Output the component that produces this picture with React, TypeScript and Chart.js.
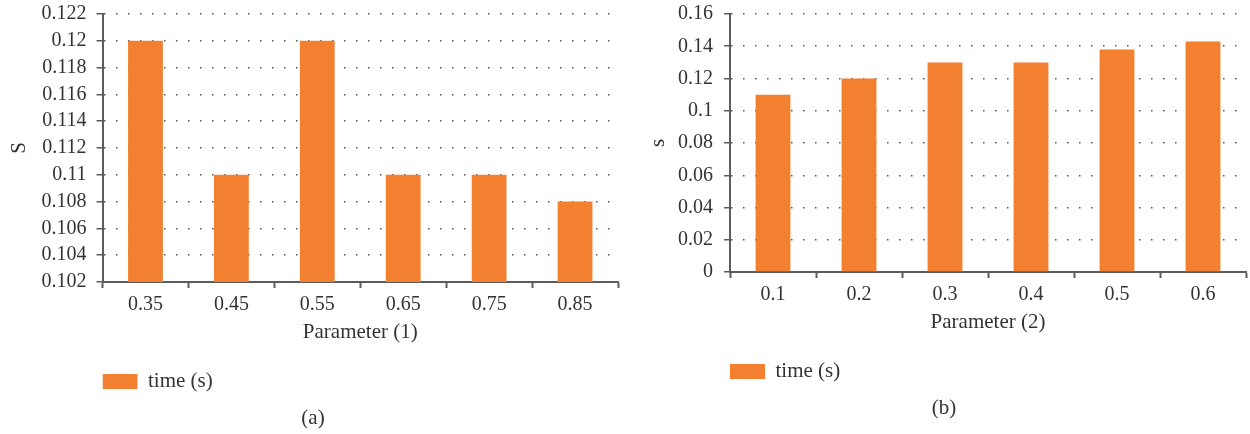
import React, { useEffect, useRef } from "react";
import { Chart, registerables } from "chart.js";

Chart.register(...registerables);

// ---- data ----
const categoriesA = ["0.35", "0.45", "0.55", "0.65", "0.75", "0.85"];
const timeA = [0.12, 0.11, 0.12, 0.11, 0.11, 0.108];
const yMinA = 0.102;
const yMaxA = 0.122;
const yStepA = 0.002;

const categoriesB = ["0.1", "0.2", "0.3", "0.4", "0.5", "0.6"];
const timeB = [0.11, 0.12, 0.13, 0.13, 0.138, 0.143];
const yMinB = 0;
const yMaxB = 0.16;
const yStepB = 0.02;

const seriesLabel = "time (s)";

// ---- styling ----
const FONT = "'Liberation Serif', 'Times New Roman', serif";
const TEXT = "#333333";
const AXIS = "#5c5c5c";
const DOTS = "#555555";
const BAR = "#F37F31";

type Panel = {
  categories: string[];
  values: number[];
  yMin: number;
  yMax: number;
  yStep: number;
  decimals: number;
  yTitle: string;
  xTitle: string;
  caption: string;
  // layout
  left: number;
  width: number;
  yWidth: number;
  yTickPad: number;
  yTitlePad: number;
  xHeight: number;
  xTickPad: number;
  xTitlePadBottom: number;
  captionPad: { top: number; bottom: number };
  padRight: number;
};

const panelA: Panel = {
  categories: categoriesA,
  values: timeA,
  yMin: yMinA,
  yMax: yMaxA,
  yStep: yStepA,
  decimals: 3,
  yTitle: "S",
  xTitle: "Parameter (1)",
  caption: "(a)",
  left: 8,
  width: 617,
  yWidth: 94.5,
  yTickPad: 10,
  yTitlePad: -1.5,
  xHeight: 89,
  xTickPad: 5,
  xTitlePadBottom: 26.4,
  captionPad: { top: 3.4, bottom: 3.4 },
  padRight: 7,
};

const panelB: Panel = {
  categories: categoriesB,
  values: timeB,
  yMin: yMinB,
  yMax: yMaxB,
  yStep: yStepB,
  decimals: 2,
  yTitle: "s",
  xTitle: "Parameter (2)",
  caption: "(b)",
  left: 642,
  width: 608,
  yWidth: 88,
  yTickPad: 11,
  yTitlePad: 3.7,
  xHeight: 89,
  xTickPad: 4.5,
  xTitlePadBottom: 26.4,
  captionPad: { top: 3.4, bottom: 13.4 },
  padRight: 4,
};

const font = (size: number) => ({ family: FONT, size, lineHeight: 1.2, weight: "normal" as const });

function buildConfig(p: Panel): any {
  return {
    type: "bar",
    data: {
      labels: p.categories,
      datasets: [
        {
          label: seriesLabel,
          data: p.values,
          backgroundColor: BAR,
          borderWidth: 0,
          categoryPercentage: 1,
          barPercentage: 0.405,
        },
      ],
    },
    options: {
      animation: false,
      responsive: false,
      layout: { padding: { top: 14, right: p.padRight, left: 0, bottom: 0 } },
      plugins: {
        legend: {
          position: "bottom",
          align: "start",
          fullSize: false,
          labels: {
            boxWidth: 35,
            boxHeight: 15,
            padding: 0,
            color: TEXT,
            font: font(21),
          },
        },
        title: {
          display: true,
          text: p.caption,
          position: "bottom",
          color: TEXT,
          font: font(21),
          padding: p.captionPad,
        },
        tooltip: { enabled: false },
      },
      scales: {
        x: {
          afterFit: (scale: any) => {
            scale.height = p.xHeight;
          },
          grid: {
            offset: true,
            drawOnChartArea: false,
            drawTicks: true,
            tickLength: 6,
            tickColor: AXIS,
            tickWidth: 2,
          },
          border: { display: true, color: AXIS, width: 2 },
          ticks: {
            color: TEXT,
            font: font(20),
            padding: p.xTickPad,
            maxRotation: 0,
            autoSkip: false,
          },
          title: {
            display: true,
            text: p.xTitle,
            color: TEXT,
            font: font(21),
            padding: { top: 0, bottom: p.xTitlePadBottom },
          },
        },
        y: {
          min: p.yMin,
          max: p.yMax,
          afterFit: (scale: any) => {
            scale.width = p.yWidth;
            // only half a label line is needed above/below the axis
            scale.paddingTop = 12;
            scale.paddingBottom = 12;
          },
          grid: {
            color: DOTS,
            lineWidth: 1.5,
            drawTicks: true,
            tickLength: 6,
            tickColor: AXIS,
            tickWidth: 1.5,
            tickBorderDash: [],
          },
          border: { display: true, color: AXIS, width: 2, dash: [1.5, 10.5], dashOffset: 0 },
          ticks: {
            stepSize: p.yStep,
            autoSkip: false,
            color: TEXT,
            font: font(20),
            padding: p.yTickPad,
            callback: (v: any) => String(Number(Number(v).toFixed(p.decimals))),
          },
          title: {
            display: true,
            text: p.yTitle,
            color: TEXT,
            font: font(21),
            padding: { top: p.yTitlePad, bottom: 0 },
          },
        },
      },
    },
  };
}

function BarPanel({ panel }: { panel: Panel }) {
  const ref = useRef<HTMLCanvasElement | null>(null);
  useEffect(() => {
    if (!ref.current) return;
    const chart = new Chart(ref.current, buildConfig(panel));
    return () => chart.destroy();
  }, [panel]);
  return (
    <canvas
      ref={ref}
      width={panel.width}
      height={434}
      style={{ position: "absolute", left: panel.left, top: 0, width: panel.width, height: 434 }}
    />
  );
}

export default function App() {
  return (
    <div
      style={{
        position: "fixed",
        left: 0,
        top: 0,
        width: 1250,
        height: 434,
        background: "#ffffff",
        overflow: "hidden",
      }}
    >
      <BarPanel panel={panelA} />
      <BarPanel panel={panelB} />
    </div>
  );
}
